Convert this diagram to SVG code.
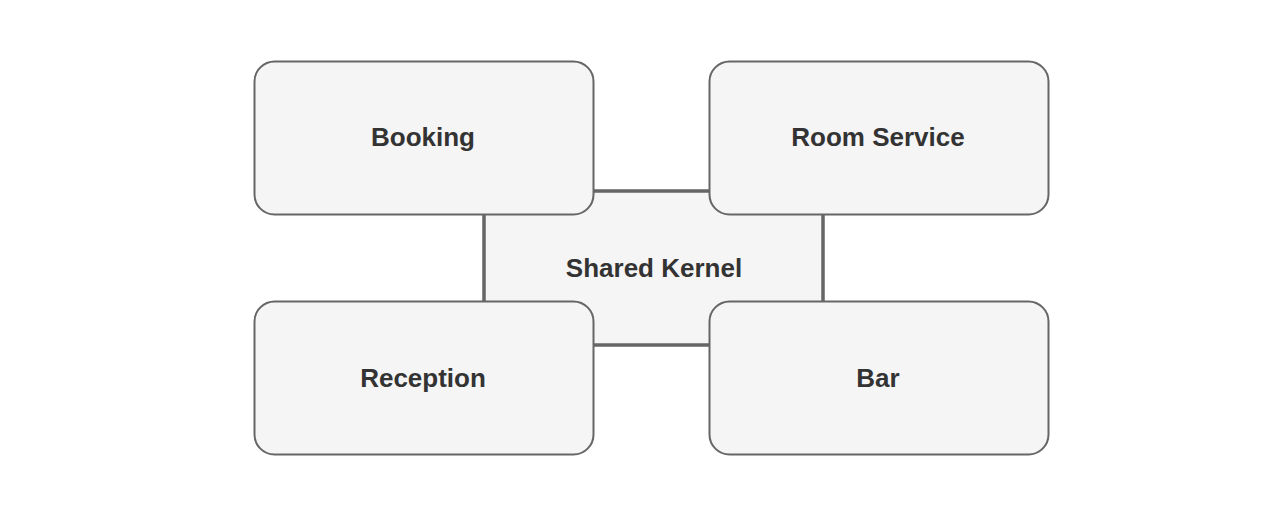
<svg xmlns="http://www.w3.org/2000/svg" width="1288" height="505" viewBox="0 0 1288 505">
<style>
.box{fill:#f5f5f5;stroke:#666666;stroke-width:2}
.kernel{fill:#f5f5f5;stroke:#666666;stroke-width:3.5}
.lbl{font-family:"Liberation Sans",Arial,sans-serif;font-weight:bold;font-size:26px;fill:#333333;text-anchor:middle}
</style>
<rect width="1288" height="505" fill="#ffffff"/>
<g id="connectors"></g>
<g id="shared-kernel">
<rect class="kernel" x="484" y="191" width="339" height="154"/>
<text class="lbl" x="654" y="277">Shared Kernel</text>
</g>
<g id="booking">
<rect class="box" x="254.5" y="61.5" width="339" height="153" rx="20"/>
<text class="lbl" x="423" y="146">Booking</text>
</g>
<g id="room-service">
<rect class="box" x="709.5" y="61.5" width="339" height="153" rx="20"/>
<text class="lbl" x="878" y="146">Room Service</text>
</g>
<g id="reception">
<rect class="box" x="254.5" y="301.5" width="339" height="153" rx="20"/>
<text class="lbl" x="423" y="387">Reception</text>
</g>
<g id="bar">
<rect class="box" x="709.5" y="301.5" width="339" height="153" rx="20"/>
<text class="lbl" x="878" y="387">Bar</text>
</g>
</svg>
